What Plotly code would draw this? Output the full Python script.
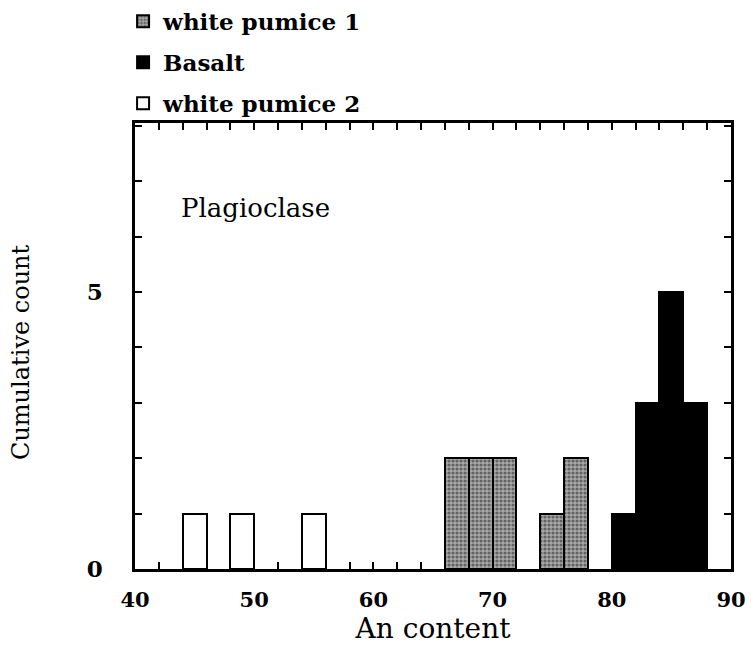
import plotly.graph_objects as go

# Data: bin centres (An content, bins of width 2) and counts
bin_width = 2
wp1_x = [67, 69, 71, 75, 77]
wp1_y = [2, 2, 2, 1, 2]
basalt_x = [81, 83, 85, 87]
basalt_y = [1, 3, 5, 3]
wp2_x = [45, 49, 55]
wp2_y = [1, 1, 1]

x_ticks = [40, 50, 60, 70, 80, 90]
y_ticks = [0, 5]

FONT = "DejaVu Serif"

fig = go.Figure()
fig.add_trace(go.Bar(x=wp1_x, y=wp1_y, width=bin_width, name="white pumice 1", legendgroup="a",
                     marker=dict(color="#8c8c8c", line=dict(color="black", width=2),
                                 pattern=dict(shape=".", fgcolor="#1e1e1e", bgcolor="#a8a8a8",
                                              size=4, solidity=0.5))))
fig.add_trace(go.Bar(x=basalt_x, y=basalt_y, width=bin_width, name="Basalt", legendgroup="b",
                     marker=dict(color="black", line=dict(color="black", width=2))))
fig.add_trace(go.Bar(x=wp2_x, y=wp2_y, width=bin_width, name="white pumice 2", legendgroup="c",
                     marker=dict(color="white", line=dict(color="black", width=2))))

fig.update_layout(
    width=751, height=652,
    margin=dict(l=135, r=20, t=123, b=83, autoexpand=False),
    paper_bgcolor="white", plot_bgcolor="white",
    barmode="overlay", bargap=0,
    font=dict(family=FONT, color="black"),
    legend=dict(x=-0.02, y=1.276, xanchor="left", yanchor="top",
                font=dict(family=FONT, size=23, weight="bold"),
                bgcolor="rgba(0,0,0,0)", itemwidth=30, tracegroupgap=8,
                traceorder="grouped"),
    showlegend=True,
)
fig.update_xaxes(range=[40, 90], tickvals=x_ticks, ticktext=[str(v) for v in x_ticks],
                 ticks="inside", ticklen=7, tickwidth=2, tickcolor="black",
                 minor=dict(dtick=2, ticks="inside", ticklen=7, tickwidth=2, tickcolor="black"),
                 showline=True, linewidth=2.5, linecolor="black", mirror="ticks",
                 showgrid=False, zeroline=False, ticklabelstandoff=10,
                 ticklabeloverflow="allow",
                 tickfont=dict(family=FONT, size=21, weight="bold"),
                 title=dict(text="An content", font=dict(family=FONT, size=28), standoff=4))
fig.update_yaxes(range=[0, 8.05], tickvals=y_ticks, ticktext=[str(v) for v in y_ticks],
                 ticks="inside", ticklen=7, tickwidth=2, tickcolor="black",
                 minor=dict(dtick=1, ticks="inside", ticklen=7, tickwidth=2, tickcolor="black"),
                 showline=True, linewidth=2.5, linecolor="black", mirror="ticks",
                 showgrid=False, zeroline=False, ticklabelstandoff=25,
                 tickfont=dict(family=FONT, size=23, weight="bold"))

fig.add_annotation(text="Plagioclase", xref="paper", yref="paper", x=0.073, y=0.81,
                   xanchor="left", yanchor="middle", showarrow=False,
                   font=dict(family=FONT, size=26))
fig.add_annotation(text="Cumulative count", xref="paper", yref="paper",
                   x=-0.191, y=0.487, xanchor="center", yanchor="middle", textangle=-90,
                   showarrow=False, font=dict(family=FONT, size=24))

fig.write_html("out.html")
